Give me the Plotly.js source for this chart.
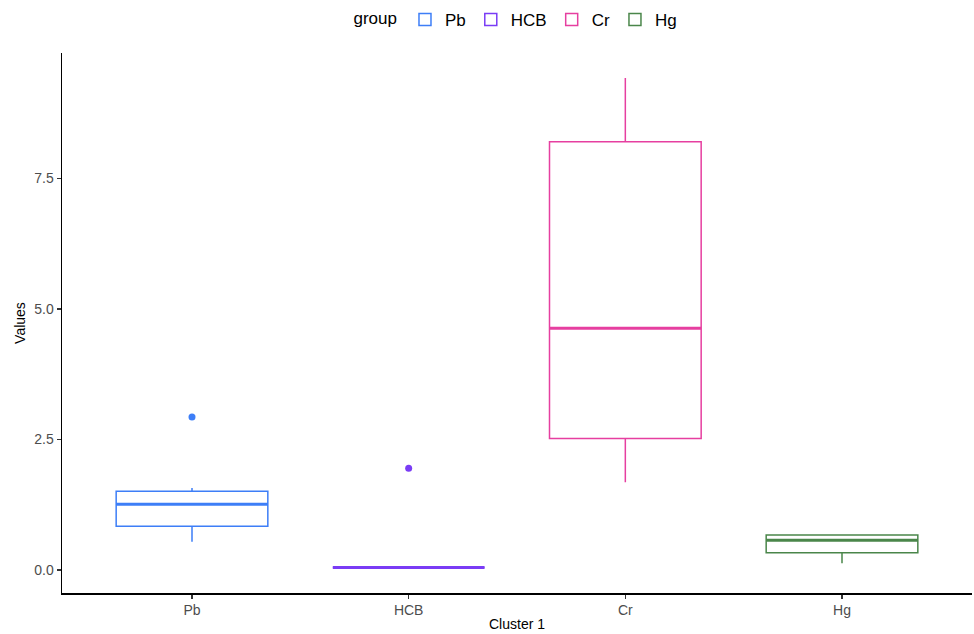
<!DOCTYPE html>
<html>
<head>
<meta charset="utf-8">
<script src="https://cdn.plot.ly/plotly-3.0.1.min.js"></script>
<style>html,body{margin:0;padding:0;background:#fff;}#chart{width:974px;height:634px;}</style>
</head>
<body>
<div id="chart"></div>
<script>
// Data
const groups = ["Pb", "HCB", "Cr", "Hg"];
const colors = ["#3D7EF7", "#7A3CF5", "#E63FA0", "#4A864A"];
const q1 = [0.84, 0.05, 2.52, 0.33];
const medians = [1.26, 0.05, 4.63, 0.57];
const q3 = [1.51, 0.05, 8.20, 0.67];
const lowerWhisker = [0.54, 0.05, 1.68, 0.13];
const upperWhisker = [1.57, 0.05, 9.42, 0.67];
const outlierGroups = ["Pb", "HCB"];
const outlierValues = [2.93, 1.95];

const boxWidth = 0.7;
const traces = [];
groups.forEach((g, i) => {
  traces.push({
    type: 'box', name: g, x: [g],
    q1: [q1[i]], median: [medians[i]], q3: [q3[i]],
    lowerfence: [lowerWhisker[i]], upperfence: [upperWhisker[i]],
    width: boxWidth, whiskerwidth: 0,
    line: {color: colors[i], width: 1.5},
    fillcolor: 'rgba(255,255,255,0)',
    hoverinfo: 'y'
  });
});
outlierGroups.forEach((g, k) => {
  const i = groups.indexOf(g);
  traces.push({
    type: 'scatter', mode: 'markers', x: [g], y: [outlierValues[k]],
    marker: {color: colors[i], size: 7}, showlegend: false, hoverinfo: 'y'
  });
});

// thicker median lines (ggplot style), positioned via the x/y axes
const shapes = groups.map((g, i) => ({
  type: 'line', xref: 'x', yref: 'y',
  x0: i - boxWidth / 2, x1: i + boxWidth / 2,
  y0: medians[i], y1: medians[i],
  line: {color: colors[i], width: 3}
}));

const layout = {
  width: 974, height: 634,
  margin: {l: 62, r: 2, t: 50, b: 41},
  paper_bgcolor: '#fff', plot_bgcolor: '#fff',
  font: {family: 'Liberation Sans, Arial, sans-serif', color: '#000'},
  showlegend: true,
  shapes: shapes,
  legend: {
    orientation: 'h', x: 0.5, xanchor: 'center', y: 1.061, yanchor: 'middle',
    font: {size: 17, color: '#000'},
    title: {text: 'group', side: 'left', font: {size: 17, color: '#000'}},
    itemwidth: 30
  },
  xaxis: {
    type: 'category', categoryorder: 'array', categoryarray: groups,
    range: [-0.6, 3.6],
    showline: true, linecolor: '#000', linewidth: 1.5,
    ticks: 'outside', ticklen: 4, tickcolor: '#333', tickwidth: 1.5,
    showgrid: false, zeroline: false,
    tickfont: {size: 14, color: '#4d4d4d'},
    title: {text: 'Cluster 1', font: {size: 14, color: '#000'}, standoff: 2}
  },
  yaxis: {
    range: [-0.44, 9.9],
    tickvals: [0, 2.5, 5, 7.5], ticktext: ['0.0', '2.5', '5.0', '7.5'],
    showline: true, linecolor: '#000', linewidth: 1.5,
    ticks: 'outside', ticklen: 4, tickcolor: '#333', tickwidth: 1.5,
    showgrid: false, zeroline: false,
    tickfont: {size: 14, color: '#4d4d4d'},
    title: {text: 'Values', font: {size: 14, color: '#000'}, standoff: 5}
  },
  boxmode: 'overlay'
};

Plotly.newPlot('chart', traces, layout, {displayModeBar: false, staticPlot: true});
</script>
</body>
</html>
